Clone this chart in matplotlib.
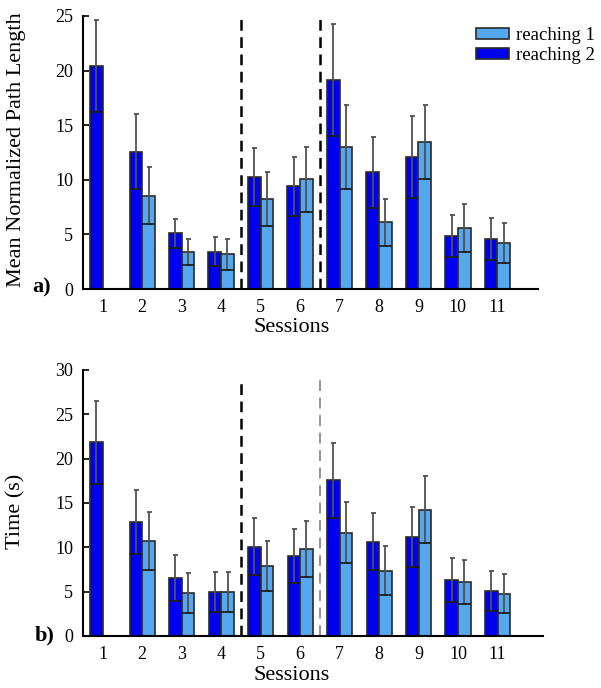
import matplotlib
matplotlib.use('Agg')
import matplotlib.pyplot as plt
import numpy as np

sessions = np.arange(1, 12)
session_labels = [str(s) for s in sessions]

# a) mean normalized path length
path_r2 = [20.45, 12.57, 5.10, 3.42, 10.28, 9.43, 19.14, 10.68, 12.12, 4.85, 4.58]
path_r2_err = [4.2, 3.45, 1.35, 1.35, 2.65, 2.7, 5.1, 3.27, 3.75, 1.95, 1.93]
path_r1 = [np.nan, 8.55, 3.39, 3.18, 8.24, 10.04, 13.0, 6.10, 13.46, 5.59, 4.18]
path_r1_err = [np.nan, 2.6, 1.17, 1.43, 2.45, 3.0, 3.85, 2.15, 3.4, 2.2, 1.83]

# b) time (s)
time_r2 = [21.84, 12.86, 6.54, 4.92, 10.08, 9.02, 17.56, 10.64, 11.13, 6.32, 5.11]
time_r2_err = [4.7, 3.6, 2.54, 2.25, 3.2, 3.05, 4.2, 3.25, 3.4, 2.5, 2.25]
time_r1 = [np.nan, 10.71, 4.85, 4.92, 7.93, 9.85, 11.65, 7.37, 14.25, 6.09, 4.74]
time_r1_err = [np.nan, 3.25, 2.2, 2.25, 2.8, 3.15, 3.45, 2.75, 3.75, 2.5, 2.2]

phase_breaks = [4.5, 6.5]

DARK = '#0000f0'
LIGHT = '#55a8ee'
EDGE = '#2a2a2a'
W = 0.32

plt.rcParams['font.family'] = ['Liberation Serif', 'DejaVu Serif']

fig = plt.figure(figsize=(6.01, 6.88), dpi=100)
ax1 = fig.add_axes([83 / 601, 1 - 289 / 688, 455 / 601, 273 / 688])
ax2 = fig.add_axes([83 / 601, 1 - 636 / 688, 460 / 601, 266 / 688])


def draw_panel(ax, r2, r2e, r1, r1e):
    x2 = sessions - W / 2
    x1 = sessions + W / 2
    b2 = ax.bar(x2, r2, W, color=DARK, edgecolor=EDGE, linewidth=1.2, label='reaching 2', zorder=2)
    b1 = ax.bar(x1, r1, W, color=LIGHT, edgecolor=EDGE, linewidth=1.2, label='reaching 1', zorder=2)
    for xs, m, e in [(x2, r2, r2e), (x1, r1, r1e)]:
        m = np.array(m, dtype=float)
        e = np.array(e, dtype=float)
        ax.errorbar(xs, m, yerr=e, fmt='none', ecolor='#505050', elinewidth=1.3,
                    capsize=1.8, capthick=1.3, zorder=3)
        ax.hlines(m - e, xs - W / 2, xs + W / 2, colors='#1a1a1a', linewidth=1.2, zorder=3)
    return b1, b2


b1, b2 = draw_panel(ax1, path_r2, path_r2_err, path_r1, path_r1_err)
draw_panel(ax2, time_r2, time_r2_err, time_r1, time_r1_err)

# phase separators
for xb in phase_breaks:
    ax1.axvline(xb, color='black', linewidth=1.8, dashes=(4.3, 2.6), zorder=1)
ax2.vlines(phase_breaks[0], 0, 29, colors='black', linewidth=1.8, linestyles=[(0, (4.3, 2.6))], zorder=1)
ax2.vlines(phase_breaks[1], 0, 29, colors='#808080', linewidth=1.2, linestyles=[(0, (6.5, 4.0))], zorder=1)

ax1.set_xlim(0.5, 12.03)
ax1.set_ylim(0, 25)
ax1.set_yticks([0, 5, 10, 15, 20, 25])
ax2.set_xlim(0.5, 12.15)
ax2.set_ylim(0, 30)
ax2.set_yticks([0, 5, 10, 15, 20, 25, 30])

for ax in (ax1, ax2):
    ax.spines['top'].set_visible(False)
    ax.spines['right'].set_visible(False)
    ax.spines['left'].set_linewidth(1.5)
    ax.spines['bottom'].set_linewidth(1.5)
    ax.set_xticks(sessions)
    ax.set_xticklabels(session_labels)
    ax.tick_params(axis='x', length=0, pad=7, labelsize=13)
    ax.tick_params(axis='y', direction='in', length=4, width=1.2, pad=7, labelsize=13)
    ax.set_xlabel('Sessions', fontsize=16, labelpad=0)

ax1.xaxis.set_label_coords((292 - 83) / 455, -0.105)
ax2.xaxis.set_label_coords((292 - 83) / 460, -0.112)

ax1.set_ylabel('Mean Normalized Path Length', fontsize=16)
ax2.set_ylabel('Time (s)', fontsize=16)
ax1.yaxis.set_label_coords(-0.125, 0.51)
ax2.yaxis.set_label_coords(-0.125, 0.47)

fig.text(51 / 601, 1 - 287 / 688, 'a)', fontsize=16, fontweight='bold', ha='right', va='center')
fig.text(55 / 601, 1 - 635 / 688, 'b)', fontsize=16, fontweight='bold', ha='right', va='center')

ax1.legend([b1, b2], ['reaching 1', 'reaching 2'], loc='upper left',
           bbox_to_anchor=(476 / 601, 1 - 27 / 688), bbox_transform=fig.transFigure,
           frameon=False, fontsize=13.5, borderpad=0, borderaxespad=0,
           handlelength=1.75, handleheight=0.55, handletextpad=0.4, labelspacing=0.15)

fig.savefig('out.png', dpi=100)
